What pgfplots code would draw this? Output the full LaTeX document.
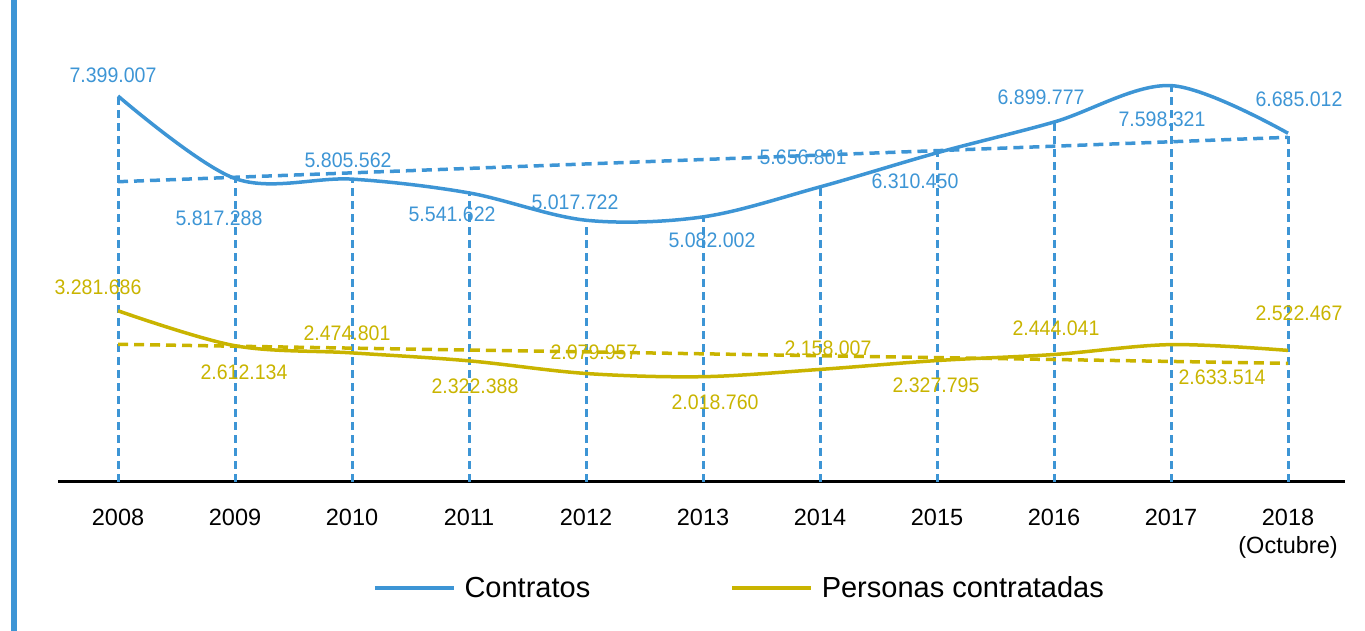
\documentclass[border=0pt]{standalone}
\usepackage{pgfplots}
\pgfplotsset{compat=1.18}
\usepackage{pgfplotstable}
\usepackage{fontspec}
\setmainfont{Liberation Sans}
\newfontfamily\lblfont{Liberation Sans}[FakeStretch=0.93]
\definecolor{cblue}{RGB}{61,149,213}
\definecolor{cyel}{RGB}{201,180,0}

\pgfplotstableread{
x y
2008 7.399007
2009 5.817288
2010 5.805562
2011 5.541622
2012 5.017722
2013 5.082002
2014 5.656801
2015 6.310450
2016 6.899777
2017 7.598321
2018 6.685012
}\contratos

\pgfplotstableread{
x y
2008 3.281686
2009 2.612134
2010 2.474801
2011 2.322388
2012 2.079957
2013 2.018760
2014 2.158007
2015 2.327795
2016 2.444041
2017 2.633514
2018 2.522467
}\personas

\pgfplotstableread{
x y lab
2007.957 7.801 7.399.007
2008.863 5.060 5.817.288
2009.966 6.172 5.805.562
2010.855 5.137 5.541.622
2011.906 5.367 5.017.722
2013.077 4.639 5.082.002
2013.855 6.230 5.656.801
2014.812 5.770 6.310.450
2015.889 7.380 6.899.777
2016.923 6.958 7.598.321
2018.094 7.341 6.685.012
}\contlab

\pgfplotstableread{
x y lab
2007.829 3.738 3.281.686
2009.077 2.108 2.612.134
2009.957 2.856 2.474.801
2011.051 1.840 2.322.388
2012.068 2.492 2.079.957
2013.103 1.533 2.018.760
2014.068 2.569 2.158.007
2014.991 1.859 2.327.795
2016.017 2.952 2.444.041
2017.436 2.013 2.633.514
2018.094 3.239 2.522.467
}\perslab

\begin{document}
\begin{tikzpicture}[x=1pt,y=1pt]
\path[use as bounding box] (0,0) rectangle (1365,631);
\fill[cblue] (11,0) rectangle (17,631);
\begin{axis}[
  at={(58pt,149pt)}, anchor=south west,
  scale only axis, width=1287pt, height=462pt,
  xmin=2007.487, xmax=2018.487, ymin=0, ymax=8.856,
  clip=false,
  axis y line=none, axis x line=bottom,
  x axis line style={-, line width=3pt, black},
  xtick={2008,2009,2010,2011,2012,2013,2014,2015,2016,2017,2018},
  xticklabels={2008,2009,2010,2011,2012,2013,2014,2015,2016,2017,{2018\\(Octubre)}},
  major tick length=0pt,
  /pgf/number format/assume math mode=true,
  xticklabel style={align=center, font=\fontsize{23.5}{28}\selectfont, text=black, anchor=north, yshift=-24pt},
  legend style={draw=none, fill=none, at={(0.5295,-0.2294)}, anchor=center,
    font=\fontsize{29}{33}\selectfont, cells={anchor=west},
    /tikz/every even column/.append style={column sep=138pt}},
  legend columns=2,
  legend image code/.code={\draw[#1] (0pt,0pt) -- (79pt,0pt); \path (86pt,0pt);},
]
% drop lines
\addplot[ycomb, cblue, line width=3pt, dash pattern=on 8pt off 5pt, forget plot] table[x=x,y=y] {\contratos};
% trend lines
\addplot[cblue, line width=3.5pt, dash pattern=on 10pt off 6pt, forget plot] coordinates {(2008,5.756) (2018,6.607)};
\addplot[cyel, line width=3.5pt, dash pattern=on 10pt off 6pt, forget plot] coordinates {(2008,2.639) (2018,2.275)};
% main lines
\addplot[cblue, line width=3.5pt, smooth, tension=0.55] table[x=x,y=y] {\contratos};
\addlegendentry{Contratos}
\addplot[cyel, line width=3.5pt, smooth, tension=0.55] table[x=x,y=y] {\personas};
\addlegendentry{Personas contratadas}
% labels
\addplot[draw=none, mark=none, forget plot, nodes near coords, point meta=explicit symbolic,
  nodes near coords style={anchor=center, text=cblue, font=\lblfont\fontsize{21}{24}\selectfont, inner sep=0pt}]
  table[x=x,y=y,meta=lab] {\contlab};
\addplot[draw=none, mark=none, forget plot, nodes near coords, point meta=explicit symbolic,
  nodes near coords style={anchor=center, text=cyel, font=\lblfont\fontsize{21}{24}\selectfont, inner sep=0pt}]
  table[x=x,y=y,meta=lab] {\perslab};
\end{axis}
\end{tikzpicture}
\end{document}
